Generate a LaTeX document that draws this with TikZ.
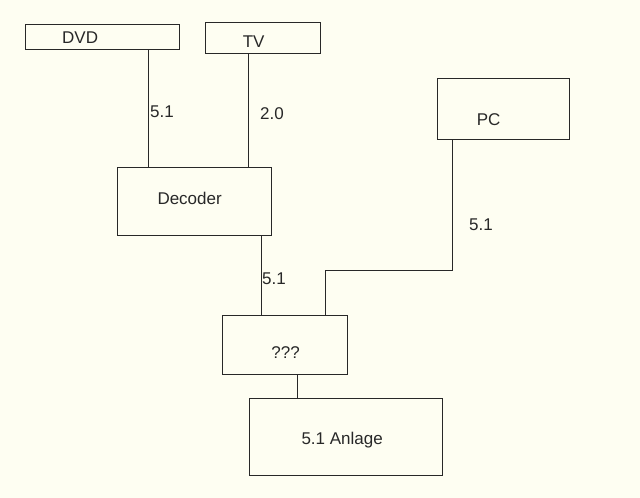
\documentclass[tikz,border=0pt]{standalone}
\usepackage{fontspec}
\setmainfont{Liberation Sans}
\definecolor{bgc}{RGB}{254,254,242}
\definecolor{ink}{RGB}{40,40,40}
\begin{document}
\begin{tikzpicture}[x=1pt,y=-1pt,
  box/.style={draw=ink,line width=1.3pt,inner sep=0pt,anchor=north west,
    label distance=0pt},
  wire/.style={draw=ink,line width=1pt},
  lab/.style={font=\fontsize{17}{20}\selectfont,text=ink,inner sep=0pt},
  every label/.style={font=\fontsize{17}{20}\selectfont,text=ink,inner sep=0pt}]
\fill[bgc] (0,0) rectangle (640,498);
\useasboundingbox (0,0) rectangle (640,498);
% boxes
\node[box,minimum width=154pt,minimum height=25pt,
  label={[xshift=-22.5pt,yshift=-0.5pt]center:DVD}] (dvd) at (25,24) {};
\node[box,minimum width=115pt,minimum height=31pt,
  label={[xshift=-9.5pt,yshift=-3.5pt]center:TV}] (tv) at (205,22) {};
\node[box,minimum width=154pt,minimum height=68pt,
  label={[xshift=-5pt,yshift=3pt]center:Decoder}] (dec) at (117,167) {};
\node[box,minimum width=132pt,minimum height=61pt,
  label={[xshift=-15pt,yshift=-10.5pt]center:PC}] (pc) at (437,78) {};
\node[box,minimum width=125pt,minimum height=59pt,
  label={[xshift=0.5pt,yshift=-7pt]center:???}] (q) at (222,315) {};
\node[box,minimum width=193pt,minimum height=77pt,
  label={[xshift=-4pt,yshift=-2.5pt]center:5.1 Anlage}] (anl) at (249,398) {};
% x positions of wires
\coordinate (xdvd) at (148,0);
\coordinate (xtv) at (248,0);
\coordinate (xdec) at (261,0);
\coordinate (pcbend) at (452,270);
\coordinate (xq) at (325.5,0);
\coordinate (xanl) at (297,0);
% wires
\draw[wire] (dvd.south -| xdvd) -- (dec.north -| xdvd);
\draw[wire] (tv.south -| xtv) -- (dec.north -| xtv);
\draw[wire] (dec.south -| xdec) -- (q.north -| xdec);
\draw[wire] (pc.south -| pcbend) -- (pcbend) -| (q.north -| xq);
\draw[wire] (q.south -| xanl) -- (anl.north -| xanl);
% wire labels
\node[lab,anchor=west] (l1) at (150,112) {5.1};
\node[lab,anchor=west] (l2) at (260,114) {2.0};
\node[lab,anchor=west] (l3) at (262,279) {5.1};
\node[lab,anchor=west] (l4) at (469,225) {5.1};
\end{tikzpicture}
\end{document}
